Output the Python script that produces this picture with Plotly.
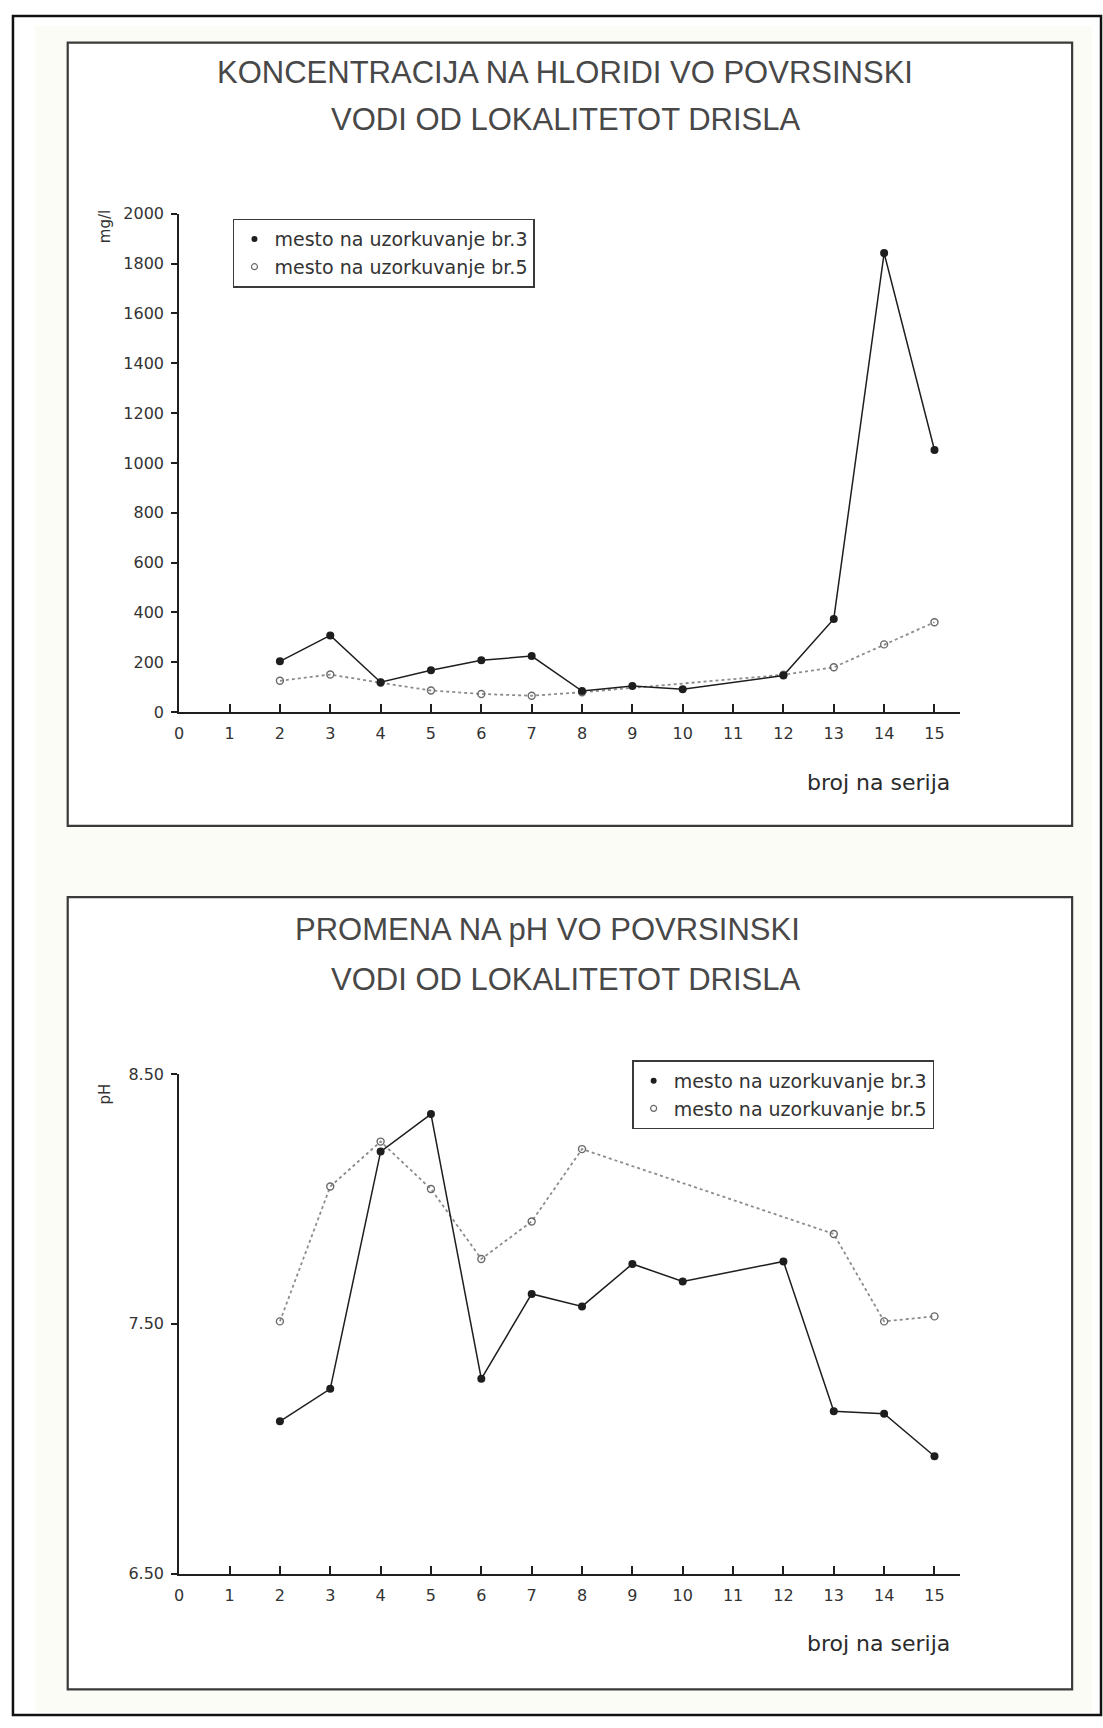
import plotly.graph_objects as go

W, H = 1103, 1728

# x axis: sample series number
serija = list(range(0, 16))

# Chloride concentration (mg/l)
cl_ticks = list(range(0, 2001, 200))
cl_x3 = [2, 3, 4, 5, 6, 7, 8, 9, 10, 12, 13, 14, 15]
cl_y3 = [204, 308, 120, 168, 208, 225, 85, 105, 92, 147, 374, 1842, 1052]
cl_x5 = [2, 3, 4, 5, 6, 7, 8, 12, 13, 14, 15]
cl_y5 = [126, 151, 118, 87, 73, 66, 80, 150, 180, 272, 361]

# pH
ph_ticks = [6.5, 7.5, 8.5]
ph_x3 = [2, 3, 4, 5, 6, 7, 8, 9, 10, 12, 13, 14, 15]
ph_y3 = [7.11, 7.24, 8.19, 8.34, 7.28, 7.62, 7.57, 7.74, 7.67, 7.75, 7.15, 7.14, 6.97]
ph_x5 = [2, 3, 4, 5, 6, 7, 8, 13, 14, 15]
ph_y5 = [7.51, 8.05, 8.23, 8.04, 7.76, 7.91, 8.20, 7.86, 7.51, 7.53]

name3 = "mesto na uzorkuvanje br.3"
name5 = "mesto na uzorkuvanje br.5"

INK = "#1e1e1e"
GREY = "#8c8c8c"


def fx(p):
    return p / W


def fy(p):
    return 1 - p / H


solid_line = dict(color=INK, width=1.5)
dot_line = dict(color=GREY, width=1.8, dash="dot")
filled = dict(symbol="circle", size=8, color=INK)
hollow = dict(symbol="circle-open", size=7, color="#6a6a6a", line=dict(width=1.4))

fig = go.Figure()

panels = [
    ("x", "y", cl_x3, cl_y3, cl_x5, cl_y5, "legend"),
    ("x2", "y2", ph_x3, ph_y3, ph_x5, ph_y5, "legend2"),
]
for xa, ya, x3, y3, x5, y5, leg in panels:
    fig.add_trace(go.Scatter(x=x5, y=y5, mode="lines+markers", line=dot_line,
                             marker=hollow, xaxis=xa, yaxis=ya, showlegend=False))
    fig.add_trace(go.Scatter(x=x3, y=y3, mode="lines+markers", line=solid_line,
                             marker=filled, xaxis=xa, yaxis=ya, showlegend=False))
    # marker-only legend entries
    fig.add_trace(go.Scatter(x=[None], y=[None], mode="markers", marker=dict(symbol="circle", size=6, color=INK),
                             name=name3, legend=leg, xaxis=xa, yaxis=ya))
    fig.add_trace(go.Scatter(x=[None], y=[None], mode="markers",
                             marker=dict(symbol="circle-open", size=6, color="#6a6a6a", line=dict(width=1.2)),
                             name=name5, legend=leg, xaxis=xa, yaxis=ya))

xdom = [fx(175), fx(959)]
common_x = dict(range=[0, 15.5], tickmode="array", tickvals=serija, showline=True, linecolor=INK,
                linewidth=2, ticks="inside", ticklen=8, tickwidth=1.5, tickcolor=INK,
                showgrid=False, zeroline=False, tickfont=dict(size=16, color="#333"),
                ticklabelstandoff=6, fixedrange=True)
common_y = dict(showline=True, linecolor=INK, linewidth=2, ticks="outside", ticklen=6,
                tickwidth=1.5, tickcolor=INK, showgrid=False, zeroline=False,
                tickfont=dict(size=16, color="#333"), ticklabelstandoff=4, fixedrange=True)

legend_style = dict(xanchor="left", yanchor="top", bordercolor="#3a3a3a", borderwidth=1.5,
                    bgcolor="white", font=dict(size=19, color="#333"), itemwidth=30,
                    tracegroupgap=0)

fig.update_layout(
    width=W, height=H, margin=dict(l=0, r=0, t=0, b=0),
    paper_bgcolor="white", plot_bgcolor="rgba(0,0,0,0)",
    font=dict(family="DejaVu Sans, Liberation Sans, Arial", color="#222", size=16),
    xaxis=dict(domain=xdom, anchor="y", **common_x),
    yaxis=dict(domain=[fy(711), fy(207)], anchor="x", range=[0, 2000],
               tickmode="array", tickvals=cl_ticks, **common_y),
    xaxis2=dict(domain=xdom, anchor="y2", **common_x),
    yaxis2=dict(domain=[fy(1582), fy(1077)], anchor="x2", range=[6.5, 8.5],
                tickmode="array", tickvals=ph_ticks, tickformat=".2f", **common_y),
    legend=dict(x=fx(229), y=fy(212), **legend_style),
    legend2=dict(x=fx(630), y=fy(1063), **legend_style),
)

# page, outer frame and the two chart frames
fig.add_shape(type="rect", xref="paper", yref="paper", x0=fx(30), x1=fx(1092), y0=fy(1722), y1=fy(17),
              line=dict(width=0), fillcolor="#fcfcf7", layer="below")
fig.add_shape(type="rect", xref="paper", yref="paper", x0=fx(8), x1=fx(1101), y0=fy(1725), y1=fy(7),
              line=dict(color="#111", width=2.5), layer="below")
for top, bottom in [(34, 826), (898, 1699)]:
    fig.add_shape(type="rect", xref="paper", yref="paper", x0=fx(63), x1=fx(1072),
                  y0=fy(bottom), y1=fy(top), line=dict(color="#3a3a3a", width=2.2),
                  fillcolor="white", layer="below")

title_font = dict(family="Liberation Sans, Arial", size=31, color="#484848")
titles = [
    ("KONCENTRACIJA NA HLORIDI VO POVRSINSKI", 563, 64),
    ("VODI OD LOKALITETOT DRISLA", 563, 112),
    ("PROMENA NA pH VO POVRSINSKI", 545, 931),
    ("VODI OD LOKALITETOT DRISLA", 563, 981),
]
for txt, cx, cy in titles:
    fig.add_annotation(text=txt, x=fx(cx), y=fy(cy), xref="paper", yref="paper",
                       xanchor="center", yanchor="middle", showarrow=False, font=title_font)

for cy in (782, 1653):
    fig.add_annotation(text="broj na serija", x=fx(951), y=fy(cy), xref="paper", yref="paper",
                       xanchor="right", yanchor="middle", showarrow=False,
                       font=dict(size=22, color="#2a2a2a"))

fig.add_annotation(text="mg/l", x=fx(100), y=fy(220), xref="paper", yref="paper", textangle=-90,
                   xanchor="center", yanchor="middle", showarrow=False, font=dict(size=15, color="#333"))
fig.add_annotation(text="pH", x=fx(100), y=fy(1097), xref="paper", yref="paper", textangle=-90,
                   xanchor="center", yanchor="middle", showarrow=False, font=dict(size=15, color="#333"))

fig.write_html("out.html")
